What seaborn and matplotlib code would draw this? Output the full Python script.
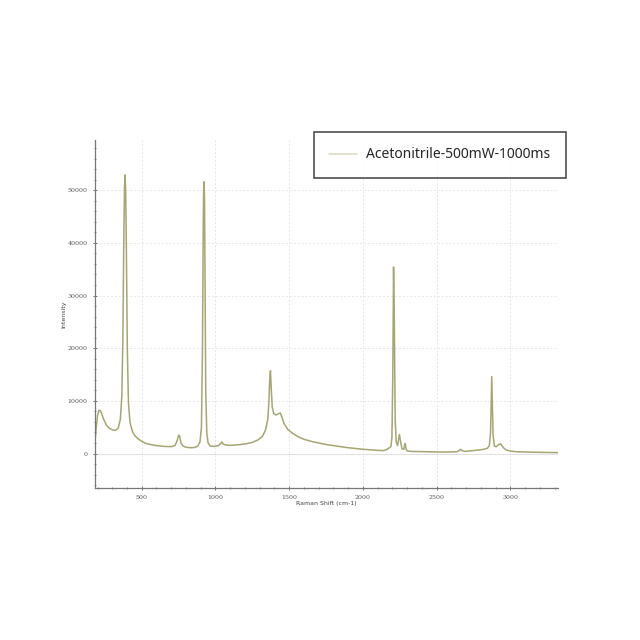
import pandas as pd
import seaborn as sns
import matplotlib.pyplot as plt
from matplotlib.ticker import MultipleLocator

# Raman spectrum (shift in cm-1, intensity in counts)
shift = [181, 190, 200, 210, 220, 228, 240, 260, 280, 300, 320, 340, 355, 365, 372, 378, 383, 387,
         391, 396, 402, 410, 420, 435, 450, 470, 500, 530, 560, 600, 650, 700, 725, 740, 748, 753,
         758, 766, 780, 800, 830, 860, 880, 895, 905, 912, 917, 920, 923, 926, 929, 934, 941, 950,
         965, 990, 1020, 1035, 1043, 1052, 1070, 1100, 1150, 1200, 1250, 1290, 1320, 1340, 1355, 1362,
         1368, 1373, 1378, 1385, 1395, 1410, 1425, 1440, 1452, 1465, 1490, 1520, 1560, 1600, 1650, 1700,
         1750, 1800, 1850, 1900, 1950, 2000, 2050, 2100, 2140, 2165, 2180, 2190, 2197, 2203, 2208, 2213,
         2219, 2226, 2235, 2243, 2248, 2254, 2265, 2278, 2283, 2287, 2292, 2300, 2320, 2360, 2420, 2480,
         2540, 2600, 2640, 2655, 2663, 2672, 2690, 2730, 2780, 2820, 2845, 2858, 2866, 2870, 2874, 2878,
         2883, 2892, 2905, 2920, 2935, 2950, 2970, 3000, 3050, 3100, 3150, 3200, 3250, 3300, 3324]
intensity = [1700, 4500, 7200, 8200, 8100, 7600, 6600, 5400, 4800, 4500, 4400, 4800, 6500, 11000, 22000, 40000, 50500, 52900,
             50000, 38000, 20000, 9500, 6000, 4300, 3500, 2900, 2300, 1900, 1700, 1500, 1350, 1300, 1500, 2400, 3300, 3500,
             3200, 2000, 1400, 1200, 1100, 1150, 1400, 2200, 5000, 20000, 43000, 50500, 51600, 48000, 35000, 12000, 4000, 2000,
             1400, 1350, 1500, 1900, 2200, 1800, 1600, 1550, 1650, 1800, 2100, 2600, 3300, 4500, 6500, 9500,
             14000, 15700, 12500, 8800, 7600, 7300, 7500, 7700, 6800, 5700, 4600, 3900, 3200, 2700, 2300, 2000,
             1700, 1500, 1300, 1100, 950, 800, 700, 600, 550, 800, 1100, 1300, 3000, 15000, 35400, 26000,
             6500, 2200, 1500, 2800, 3600, 2500, 900, 800, 1600, 1900, 1000, 500, 400, 380, 350, 300,
             280, 300, 350, 600, 800, 550, 400, 500, 650, 800, 1000, 1500, 4000, 9500, 14600, 10000,
             3500, 1400, 1300, 1700, 1800, 1200, 700, 450, 320, 280, 250, 220, 200, 180, 170]
series_name = "Acetonitrile-500mW-1000ms"

df = pd.DataFrame({"shift": shift, "intensity": intensity})

sns.set_style("white")

fig = plt.figure(figsize=(6.4, 6.4), dpi=100)
ax = fig.add_axes([0.148, 0.2375, 0.724, 0.5435])

sns.lineplot(data=df, x="shift", y="intensity", color="#a5a576", linewidth=1.1,
             estimator=None, label=series_name, ax=ax)

ax.set_xlim(181, 3324)
ax.set_ylim(-6550, 59500)
ax.xaxis.set_major_locator(MultipleLocator(500))
ax.xaxis.set_minor_locator(MultipleLocator(100))
ax.yaxis.set_major_locator(MultipleLocator(10000))
ax.yaxis.set_minor_locator(MultipleLocator(2000))

ax.grid(True, which="major", linestyle=(0, (2, 2)), color="#e6e6e6", linewidth=0.7)
ax.axhline(0, color="#dddddd", linewidth=0.8, zorder=0)

for side in ["top", "right"]:
    ax.spines[side].set_visible(False)
for side in ["left", "bottom"]:
    ax.spines[side].set_color("#777777")
    ax.spines[side].set_linewidth(0.9)

ax.tick_params(which="major", direction="inout", length=3, width=0.7, color="#777777",
               labelsize=4.5, labelcolor="#555555", labelfontfamily="DejaVu Serif",
               left=True, bottom=True)
ax.tick_params(which="minor", direction="inout", length=2, width=0.6, color="#777777",
               left=True, bottom=True)

ax.set_xlabel("Raman Shift (cm-1)", fontsize=4.5, color="#444444", labelpad=1)
ax.set_ylabel("Intensity", fontsize=4.5, color="#444444", labelpad=1)

ax.get_legend().remove()
handles, labels = ax.get_legend_handles_labels()
leg = fig.legend(handles, labels, loc="center", bbox_to_anchor=(0.687, 0.758),
                 frameon=True, fancybox=False, borderpad=1.1, handlelength=2.0,
                 handletextpad=0.7, prop={"family": "Noto Sans", "size": 10})
leg.get_frame().set_edgecolor("#222222")
leg.get_frame().set_linewidth(1.2)
leg.get_lines()[0].set_color("#d8d8c0")

plt.savefig("out.png", dpi=100, facecolor="white")
